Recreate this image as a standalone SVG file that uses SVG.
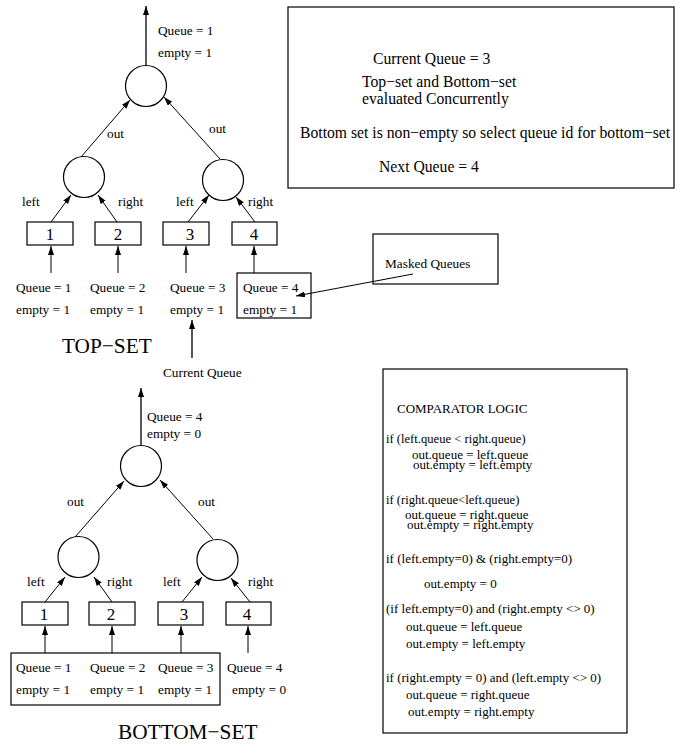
<svg xmlns="http://www.w3.org/2000/svg" width="687" height="747" viewBox="0 0 687 747">
<style>
text{font-family:"Liberation Serif","Times New Roman",serif;fill:#000}
.t{font-size:13.3px}
.n{font-size:17px;text-anchor:middle}
.big{font-size:21.3px}
.m{font-size:15.7px}
.c{font-size:13px}
.cs{font-size:12.6px}
.shape{fill:#fff;stroke:#000;stroke-width:1.2}
.frame{fill:none;stroke:#000;stroke-width:1.2}
.ln{fill:none;stroke:#000;stroke-width:1}
.lt{fill:none;stroke:#000;stroke-width:1.3}
</style>
<defs>
<marker id="ah" markerUnits="userSpaceOnUse" markerWidth="10" markerHeight="8" refX="9" refY="3" orient="auto">
<path d="M0,0 L9,3 L0,6 z" fill="#000"/>
</marker>
</defs>
<rect width="687" height="747" fill="#fff"/>

<!-- TOP SET -->
<g id="top-root"><circle class="shape" cx="146" cy="86" r="20.5"/></g>
<g id="top-left"><circle class="shape" cx="84" cy="177" r="20.5"/></g>
<g id="top-right"><circle class="shape" cx="223" cy="180" r="20.5"/></g>
<g id="top-box1"><rect class="shape" x="27" y="222" width="46" height="23"/><text class="n" x="50" y="240">1</text></g>
<g id="top-box2"><rect class="shape" x="95" y="222" width="46" height="23"/><text class="n" x="118" y="240">2</text></g>
<g id="top-box3"><rect class="shape" x="163" y="222" width="46" height="23"/><text class="n" x="190" y="240">3</text></g>
<g id="top-box4"><rect class="shape" x="232" y="222" width="45" height="23"/><text class="n" x="254" y="240">4</text></g>

<g id="top-labels">
<text class="t" x="158" y="35">Queue = 1</text>
<text class="t" x="158" y="57">empty = 1</text>
<text class="t" x="107" y="138">out</text>
<text class="t" x="209" y="133">out</text>
<text class="t" x="22" y="206">left</text>
<text class="t" x="118" y="206">right</text>
<text class="t" x="176" y="206">left</text>
<text class="t" x="248" y="206">right</text>
<text class="t" x="16" y="292">Queue = 1</text>
<text class="t" x="16" y="314">empty = 1</text>
<text class="t" x="90" y="292">Queue = 2</text>
<text class="t" x="90" y="314">empty = 1</text>
<text class="t" x="170" y="292">Queue = 3</text>
<text class="t" x="170" y="314">empty = 1</text>
<text class="big" x="62" y="353">TOP−SET</text>
<text class="t" x="163" y="377">Current Queue</text>
</g>
<g id="top-q4">
<rect class="frame" x="237" y="273" width="74" height="45"/>
<text class="t" x="243" y="292">Queue = 4</text>
<text class="t" x="243" y="314">empty = 1</text>
</g>

<g id="masked">
<rect class="frame" x="373" y="234" width="125" height="50"/>
<text class="t" x="385" y="268">Masked Queues</text>
</g>

<g id="info">
<rect class="frame" x="288" y="7" width="386" height="181"/>
<text class="m" x="373" y="64">Current Queue = 3</text>
<text class="m" x="362" y="87">Top−set and Bottom−set</text>
<text class="m" x="362" y="104">evaluated Concurrently</text>
<text class="m" x="300" y="138">Bottom set is non−empty so select queue id for bottom−set</text>
<text class="m" x="379" y="172">Next Queue = 4</text>
</g>

<!-- BOTTOM SET -->
<g id="bot-root"><circle class="shape" cx="141" cy="466" r="20.5"/></g>
<g id="bot-left"><circle class="shape" cx="78.5" cy="557" r="20.5"/></g>
<g id="bot-right"><circle class="shape" cx="217.5" cy="560" r="20.5"/></g>
<g id="bot-box1"><rect class="shape" x="22" y="602" width="46" height="23"/><text class="n" x="44" y="620">1</text></g>
<g id="bot-box2"><rect class="shape" x="89" y="602" width="46" height="23"/><text class="n" x="111" y="620">2</text></g>
<g id="bot-box3"><rect class="shape" x="158" y="602" width="45" height="23"/><text class="n" x="184" y="620">3</text></g>
<g id="bot-box4"><rect class="shape" x="226" y="602" width="45" height="23"/><text class="n" x="247" y="620">4</text></g>

<g id="bot-group">
<rect class="frame" x="11" y="653" width="209" height="52"/>
<text class="t" x="16" y="672">Queue = 1</text>
<text class="t" x="16" y="694">empty = 1</text>
<text class="t" x="90" y="672">Queue = 2</text>
<text class="t" x="90" y="694">empty = 1</text>
<text class="t" x="158" y="672">Queue = 3</text>
<text class="t" x="158" y="694">empty = 1</text>
</g>
<g id="bot-labels">
<text class="t" x="147" y="421">Queue = 4</text>
<text class="t" x="147" y="438">empty = 0</text>
<text class="t" x="67" y="506">out</text>
<text class="t" x="198" y="506">out</text>
<text class="t" x="27" y="586">left</text>
<text class="t" x="107" y="586">right</text>
<text class="t" x="163" y="586">left</text>
<text class="t" x="248" y="586">right</text>
<text class="t" x="227" y="672">Queue = 4</text>
<text class="t" x="232" y="694">empty = 0</text>
<text class="big" x="118" y="739">BOTTOM−SET</text>
</g>

<g id="comparator">
<rect class="frame" x="383" y="369" width="244" height="364"/>
<text class="c" x="397" y="413">COMPARATOR LOGIC</text>
<text class="cs" x="386" y="443">if (left.queue &lt; right.queue)</text>
<text class="c" x="412" y="459">out.queue = left.queue</text>
<text class="c" x="413" y="469">out.empty = left.empty</text>
<text class="cs" x="386" y="504">if (right.queue&lt;left.queue)</text>
<text class="c" x="405" y="519">out.queue = right.queue</text>
<text class="c" x="407" y="529">out.empty = right.empty</text>
<text class="c" x="386" y="563">if (left.empty=0) &amp; (right.empty=0)</text>
<text class="c" x="424" y="588">out.empty = 0</text>
<text class="c" x="386" y="613">(if left.empty=0) and (right.empty &lt;&gt; 0)</text>
<text class="c" x="406" y="631">out.queue = left.queue</text>
<text class="c" x="406" y="648">out.empty = left.empty</text>
<text class="c" x="386" y="682">if (right.empty = 0) and (left.empty &lt;&gt; 0)</text>
<text class="c" x="406" y="699">out.queue = right.queue</text>
<text class="c" x="408" y="716">out.empty = right.empty</text>
</g>

<g id="connectors">
<line class="lt" x1="146" y1="65" x2="146" y2="6" marker-end="url(#ah)"/>
<line class="ln" x1="81" y1="157" x2="130" y2="100" marker-end="url(#ah)"/>
<line class="ln" x1="220" y1="159" x2="164" y2="97" marker-end="url(#ah)"/>
<line class="ln" x1="51" y1="222" x2="71" y2="195" marker-end="url(#ah)"/>
<line class="ln" x1="117" y1="222" x2="98" y2="195" marker-end="url(#ah)"/>
<line class="ln" x1="188" y1="222" x2="209" y2="195" marker-end="url(#ah)"/>
<line class="ln" x1="255" y1="222" x2="236" y2="197" marker-end="url(#ah)"/>
<line class="ln" x1="51" y1="273" x2="51" y2="246" marker-end="url(#ah)"/>
<line class="ln" x1="118" y1="273" x2="118" y2="246" marker-end="url(#ah)"/>
<line class="ln" x1="186" y1="273" x2="186" y2="246" marker-end="url(#ah)"/>
<line class="ln" x1="254" y1="273" x2="254" y2="246" marker-end="url(#ah)"/>
<line class="lt" x1="192" y1="358" x2="192" y2="320" marker-end="url(#ah)"/>
<line class="ln" x1="413" y1="274" x2="296" y2="296" marker-end="url(#ah)"/>
<line class="lt" x1="141" y1="445" x2="141" y2="388" marker-end="url(#ah)"/>
<line class="ln" x1="75" y1="537" x2="124" y2="481" marker-end="url(#ah)"/>
<line class="ln" x1="213" y1="539" x2="160" y2="480" marker-end="url(#ah)"/>
<line class="ln" x1="45" y1="602" x2="65" y2="577" marker-end="url(#ah)"/>
<line class="ln" x1="112" y1="602" x2="94" y2="577" marker-end="url(#ah)"/>
<line class="ln" x1="182" y1="602" x2="202" y2="577" marker-end="url(#ah)"/>
<line class="ln" x1="250" y1="602" x2="231" y2="578" marker-end="url(#ah)"/>
<line class="ln" x1="45" y1="653" x2="45" y2="626" marker-end="url(#ah)"/>
<line class="ln" x1="112" y1="653" x2="112" y2="626" marker-end="url(#ah)"/>
<line class="ln" x1="181" y1="653" x2="181" y2="626" marker-end="url(#ah)"/>
<line class="ln" x1="248" y1="653" x2="248" y2="626" marker-end="url(#ah)"/>
</g>
</svg>
